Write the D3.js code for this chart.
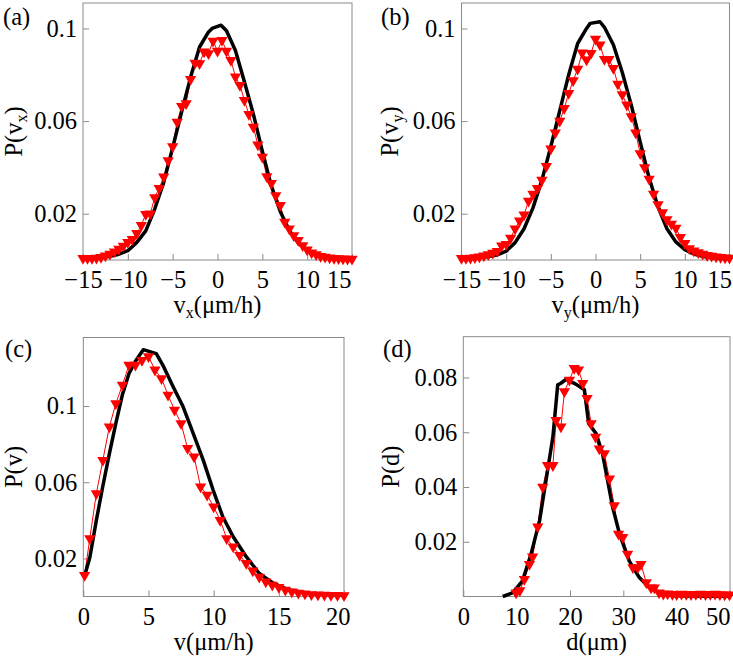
<!DOCTYPE html>
<html>
<head>
<meta charset="utf-8">
<script src="https://cdn.jsdelivr.net/npm/d3@7"></script>
<style>
  body { margin: 0; background: #fff; }
  svg text { font-family: "Liberation Serif", "DejaVu Serif", serif; }
</style>
</head>
<body>
<div id="chart"></div>
<script>
// ---- data: [value, probability] ----

// (a) P(vx)
const aBlack = [[-15,0.0005],[-14,0.0007],[-13,0.001],[-12,0.0016],[-11,0.0025],[-10,0.004],[-9,0.0076],[-8,0.0126],
  [-7,0.022],[-6,0.0335],[-5,0.0485],[-4,0.064],[-3,0.079],[-2,0.092],[-1,0.0985],[-0.6,0.1],[0.4,0.1014],[1,0.099],
  [2,0.0905],[3,0.077],[4,0.063],[5,0.047],[6,0.032],[7,0.021],[8,0.0128],[9,0.0073],[10,0.0042],[11,0.0025],
  [12,0.0016],[13,0.001],[14,0.0007],[15,0.0005]];
const aRed = [[-15,0.0008],[-14.5,0.0008],[-14,0.0008],[-13.5,0.0009],[-13,0.0012],[-12.5,0.0018],[-12,0.0026],
  [-11.5,0.0036],[-11,0.0048],[-10.5,0.006],[-10,0.0077],[-9.5,0.009],[-9,0.0115],[-8.5,0.015],[-8,0.0198],
  [-7.5,0.02],[-7,0.027],[-6.5,0.031],[-6,0.036],[-5.5,0.043],[-5,0.049],[-4.5,0.0596],[-4,0.0664],[-3.5,0.0676],
  [-3,0.0781],[-2.5,0.0851],[-2,0.0849],[-1.5,0.0899],[-1,0.0892],[-0.5,0.0946],[0,0.0903],[0.5,0.0949],[1,0.0903],
  [1.5,0.0863],[2,0.0791],[2.5,0.0755],[3,0.069],[3.5,0.0629],[4,0.0574],[4.5,0.0498],[5,0.0445],[5.5,0.0361],
  [6,0.0332],[6.5,0.0279],[7,0.0236],[7.5,0.0164],[8,0.0135],[8.5,0.0106],[9,0.0085],[9.5,0.0063],[10,0.0044],
  [10.5,0.0031],[11,0.0024],[11.5,0.0016],[12,0.0013],[12.5,0.001],[13,0.0008],[13.5,0.0006],[14,0.0005],
  [14.5,0.0004],[15,0.0004]];

// (b) P(vy)
const bBlack = [[-15,0.0005],[-14,0.0007],[-13,0.001],[-12,0.0015],[-11,0.0022],[-10,0.0038],[-9,0.0075],[-8,0.0135],
  [-7,0.0225],[-6,0.0345],[-5,0.049],[-4,0.0645],[-3,0.08],[-2,0.0935],[-1,0.1],[-0.6,0.1022],[0.5,0.1029],[1,0.1005],
  [2,0.093],[3,0.081],[4,0.067],[5,0.051],[6,0.0355],[7,0.023],[8,0.0135],[9,0.0078],[10,0.0045],[11,0.0026],
  [12,0.0016],[13,0.001],[14,0.0007],[15,0.0005]];
const bRed = [[-15,0.0008],[-14.5,0.0008],[-14,0.0009],[-13.5,0.0011],[-13,0.0014],[-12.5,0.0018],[-12,0.0024],
  [-11.5,0.003],[-11,0.0038],[-10.5,0.0062],[-10,0.0068],[-9.5,0.0095],[-9,0.0135],[-8.5,0.017],[-8,0.0195],
  [-7.5,0.0255],[-7,0.0285],[-6.5,0.031],[-6,0.0345],[-5.5,0.0405],[-5,0.048],[-4.5,0.055],[-4,0.06],[-3.5,0.0655],
  [-3,0.072],[-2.5,0.0775],[-2,0.0825],[-1.5,0.0895],[-1,0.0865],[-0.5,0.0893],[0,0.0955],[0.5,0.093],[1,0.0867],
  [1.5,0.0867],[2,0.0828],[2.5,0.076],[3,0.0715],[3.5,0.067],[4,0.062],[4.5,0.055],[5,0.046],[5.5,0.04],[6,0.035],
  [6.5,0.0285],[7,0.024],[7.5,0.0205],[8,0.0175],[8.5,0.0155],[9,0.0138],[9.5,0.0098],[10,0.0072],[10.5,0.005],
  [11,0.004],[11.5,0.0032],[12,0.0026],[12.5,0.002],[13,0.0017],[13.5,0.0014],[14,0.0012],[14.5,0.001],[15,0.0009]];

// (c) P(v)
const cBlack = [[0.13,0.0115],[0.5,0.0205],[1,0.04],[1.5,0.058],[2,0.075],[2.5,0.091],[3,0.106],[3.5,0.117],
  [4,0.1235],[4.6,0.1296],[5.6,0.1275],[6.1,0.1215],[6.9,0.11],[7.66,0.0996],[8.43,0.0857],[9.2,0.0716],
  [9.96,0.0559],[10.7,0.0419],[11.5,0.0314],[12.5,0.0209],[13.5,0.0121],[14.6,0.0069],[15.8,0.0034],
  [17.4,0.0016],[20,0.0006]];
const cRed = [[0.1,0.0112],[0.5,0.0305],[1,0.0541],[1.5,0.0716],[2,0.0891],[2.5,0.1014],[3,0.111],[3.5,0.1215],
  [4,0.1215],[4.5,0.124],[5,0.126],[5.5,0.119],[6,0.1145],[6.5,0.1058],[7,0.0979],[7.5,0.0909],[8,0.0778],
  [8.5,0.0734],[9,0.0576],[9.5,0.0533],[10,0.0471],[10.5,0.0401],[11,0.0305],[11.5,0.0261],[12,0.0217],
  [12.5,0.0174],[13,0.0135],[13.5,0.0103],[14,0.0077],[14.5,0.006],[15,0.0048],[15.5,0.0034],[16,0.0025],
  [16.5,0.0018],[17,0.0014],[17.5,0.0011],[18,0.0009],[18.5,0.0008],[19,0.0007],[19.5,0.0006],[20,0.0005]];

// (d) P(d)
const dBlack = [[7.4,0.0],[9.3,0.0014],[11.1,0.0057],[12.7,0.0155],[14.3,0.0277],[15.8,0.046],[16.8,0.0583],
  [17.7,0.0773],[18.3,0.0779],[19.3,0.0794],[19.9,0.0785],[20.8,0.0779],[21.8,0.0767],[22.7,0.0755],[23.5,0.0632],
  [24.9,0.0595],[26.1,0.0522],[28,0.0326],[29.3,0.0228],[31.1,0.013],[33,0.0069],[34.9,0.0032],[36.8,0.0014],
  [39.3,0.0003],[42,0.0002],[46,0.0001],[50,0.0001]];
const dRed = [[9.9,0.0014],[10.6,0.0022],[11.45,0.0063],[12.4,0.0118],[13,0.0145],[13.96,0.0255],[14.9,0.04],
  [15.8,0.0479],[16.8,0.0479],[17.4,0.0644],[18.3,0.062],[18.96,0.0749],[19.9,0.0791],[20.8,0.0834],[21.6,0.0828],
  [22.4,0.0779],[23.2,0.0724],[23.96,0.0632],[24.8,0.0583],[25.5,0.054],[26.45,0.0522],[27.4,0.043],[28.3,0.0332],
  [29.1,0.0228],[29.9,0.0216],[30.8,0.0155],[31.8,0.0106],[32.7,0.0106],[33.3,0.0118],[34.3,0.0051],[35.2,0.0032],
  [35.8,0.0032],[36.7,0.0014],[37.5,0.0009],[38.3,0.001],[39.2,0.0008],[40,0.0007],[40.9,0.0009],[41.8,0.0008],
  [42.7,0.0007],[43.6,0.0008],[44.5,0.0009],[45.4,0.0007],[46.3,0.0008],[47.2,0.0009],[48.1,0.0007],[49,0.0006],
  [49.9,0.0006]];

// ticks
const velXTicks = [-15, -10, -5, 0, 5, 10, 15];
const velXTickLabels = ["\u221215", "\u221210", "\u22125", "0", "5", "10", "15"];
const velYTicks = [0.02, 0.06, 0.1];
const velYTickLabels = ["0.02", "0.06", "0.1"];
const speedXTicks = [0, 5, 10, 15, 20];
const speedXTickLabels = ["0", "5", "10", "15", "20"];
const distXTicks = [0, 10, 20, 30, 40, 50];
const distXTickLabels = ["0", "10", "20", "30", "40", "50"];
const distYTicks = [0.02, 0.04, 0.06, 0.08];
const distYTickLabels = ["0.02", "0.04", "0.06", "0.08"];

const width = 733, height = 658;
const fontSize = 24.5;
const serif = "'Liberation Serif', 'DejaVu Serif', serif";
const gray = "#8a8a8a";
const red = "#ff0000";

const svg = d3.select("#chart").append("svg")
    .attr("width", width)
    .attr("height", height)
    .attr("font-family", serif);

const panels = [
  { letter: "(a)", letterPos: [3, 25], xr: [83, 352], yr: [260, 3], xd: [-15, 15], yd: [0, 0.111],
    xTicks: velXTicks, xLabels: velXTickLabels, yTicks: velYTicks, yLabels: velYTickLabels,
    black: aBlack, red: aRed, yTitle: ["P(v", "x", ")"], xTitle: ["v", "x", "(\u03bcm/h)"], yTitleX: 22, lastDx: -1 },
  { letter: "(b)", letterPos: [381, 25], xr: [461.5, 729.5], yr: [260, 3], xd: [-15, 15], yd: [0, 0.111],
    xTicks: velXTicks, xLabels: velXTickLabels, yTicks: velYTicks, yLabels: velYTickLabels,
    black: bBlack, red: bRed, yTitle: ["P(v", "y", ")"], xTitle: ["v", "y", "(\u03bcm/h)"], yTitleX: 398, lastDx: 2 },
  { letter: "(c)", letterPos: [5, 357], xr: [83.3, 344], yr: [596.5, 337.5], xd: [0, 20], yd: [0, 0.136],
    xTicks: speedXTicks, xLabels: speedXTickLabels, yTicks: velYTicks, yLabels: velYTickLabels,
    black: cBlack, red: cRed, yTitle: ["P(v)"], xTitle: ["v(\u03bcm/h)"], yTitleX: 22, lastDx: 6 },
  { letter: "(d)", letterPos: [383, 357], xr: [463.3, 730], yr: [596.5, 336.7], xd: [0, 50], yd: [0, 0.0949],
    xTicks: distXTicks, xLabels: distXTickLabels, yTicks: distYTicks, yLabels: distYTickLabels,
    black: dBlack, red: dRed, yTitle: ["P(d)"], xTitle: ["d(\u03bcm)"], yTitleX: 399, lastDx: 0 }
];

// write "base + subscript + rest" into a text element
function addTitle(sel, parts) {
  sel.append("tspan").text(parts[0]);
  if (parts.length > 1) {
    sel.append("tspan").attr("font-size", 16).attr("dy", 5).text(parts[1]);
    sel.append("tspan").attr("dy", -5).text(parts[2]);
  }
}

const tri = d3.symbol().type(d3.symbolTriangle).size(55);

panels.forEach(p => {
  const x = d3.scaleLinear().domain(p.xd).range(p.xr);
  const y = d3.scaleLinear().domain(p.yd).range(p.yr);
  const g = svg.append("g");

  // axes with inward ticks
  const xAxis = d3.axisBottom(x)
      .tickValues(p.xTicks)
      .tickFormat((d, i) => p.xLabels[i])
      .tickSizeInner(-6).tickSizeOuter(0).tickPadding(11);
  const yAxis = d3.axisLeft(y)
      .tickValues(p.yTicks)
      .tickFormat((d, i) => p.yLabels[i])
      .tickSizeInner(-6).tickSizeOuter(0).tickPadding(6);

  const gx = g.append("g")
      .attr("transform", `translate(0,${p.yr[0]})`)
      .call(xAxis);
  const gy = g.append("g")
      .attr("transform", `translate(${p.xr[0]},0)`)
      .call(yAxis);

  [gx, gy].forEach(a => {
    a.attr("font-family", serif).attr("font-size", fontSize);
    a.select(".domain").remove();
    a.selectAll(".tick line").attr("stroke", gray);
    a.selectAll(".tick text").attr("fill", "#000");
  });
  // last x label is pulled back inside the frame
  gx.selectAll(".tick text").filter((d, i, n) => i === n.length - 1)
      .attr("text-anchor", "end")
      .attr("x", p.lastDx);

  // frame
  g.append("rect")
      .attr("x", p.xr[0]).attr("y", p.yr[1])
      .attr("width", p.xr[1] - p.xr[0]).attr("height", p.yr[0] - p.yr[1])
      .attr("fill", "none").attr("stroke", gray).attr("stroke-width", 1);

  const line = d3.line().x(d => x(d[0])).y(d => y(d[1]));

  // simulation (black) and experiment (red)
  g.append("path")
      .datum(p.red)
      .attr("d", line)
      .attr("fill", "none")
      .attr("stroke", red)
      .attr("stroke-width", 1);

  g.append("path")
      .datum(p.black)
      .attr("d", line)
      .attr("fill", "none")
      .attr("stroke", "#000")
      .attr("stroke-width", 3.5)
      .attr("stroke-linejoin", "round");

  g.append("g")
    .selectAll("path")
    .data(p.red)
    .join("path")
      .attr("d", tri)
      .attr("transform", d => `translate(${x(d[0])},${y(d[1])}) rotate(180)`)
      .attr("fill", red);

  // titles
  const yt = g.append("text")
      .attr("transform", `translate(${p.yTitleX},${(p.yr[0] + p.yr[1]) / 2}) rotate(-90)`)
      .attr("text-anchor", "middle")
      .attr("font-size", fontSize);
  addTitle(yt, p.yTitle);

  const xt = g.append("text")
      .attr("x", (p.xr[0] + p.xr[1]) / 2)
      .attr("y", p.yr[0] + 53)
      .attr("text-anchor", "middle")
      .attr("font-size", fontSize);
  addTitle(xt, p.xTitle);

  g.append("text")
      .attr("x", p.letterPos[0])
      .attr("y", p.letterPos[1])
      .attr("font-size", fontSize)
      .text(p.letter);
});
</script>
</body>
</html>
